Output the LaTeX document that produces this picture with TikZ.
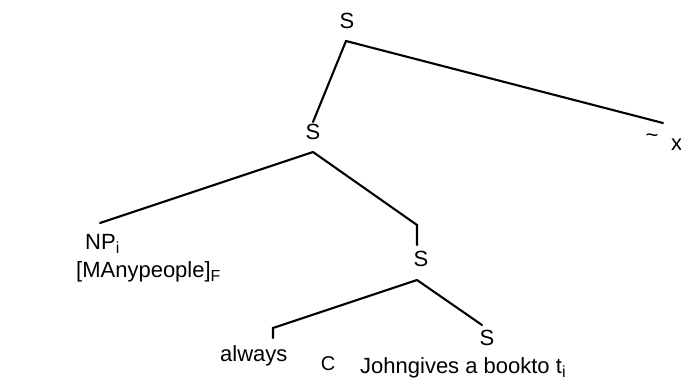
\documentclass[tikz,border=0pt]{standalone}
\usepackage{fontspec}
\setmainfont{Liberation Sans}
\newcommand{\lowidx}[1]{\raisebox{-4pt}{\fontsize{16}{16}\selectfont #1}}

\begin{document}
\begin{tikzpicture}[x=1pt,y=-1pt,
    lbl/.style={inner sep=0pt,anchor=base,font=\fontsize{22}{26}\selectfont},
    lblw/.style={lbl,anchor=base west},
    branch/.style={line width=2.1pt,line cap=round}]
    \useasboundingbox (0,0) rectangle (681,385);

    % top of the tree
    \node[lbl] (sTop) at (347,29) {S};
    \coordinate (sTopFoot) at (346,41);
    \coordinate (sMidHead) at (313,122);
    \coordinate (tildeHead) at (663,123);
    \node[lbl] (tilde) at (652,143) {\textasciitilde};
    \node[lblw] (xVar) at (671,151) {x};

    % middle S
    \node[lbl] (sMid) at (313,140) {S};
    \coordinate (sMidFoot) at (313,152);
    \coordinate (npHead) at (100,223);
    \coordinate (sLowElbow) at (417,225);
    \coordinate (sLowHead) at (417,245);
    \node[lblw] (np) at (85,250) {NP\lowidx{i}};
    \node[lblw] (focus) at (76,278) {[MAnypeople]\lowidx{F}};

    % lower S
    \node[lbl] (sLow) at (421,267) {S};
    \coordinate (sLowFoot) at (417,280);
    \coordinate (alwaysElbow) at (273,328);
    \coordinate (alwaysHead) at (273,338);
    \coordinate (sBotHead) at (482,325);
    \node[lbl] (sBot) at (487,345) {S};
    \node[lblw] (always) at (220,361) {always};
    \node[lbl,font=\fontsize{20}{24}\selectfont] (cVar) at (328,370) {C};
    \node[lblw] (clause) at (360,373) {Johngives a bookto t\lowidx{i}};

    \draw[branch] (sMidHead) -- (sTopFoot) -- (tildeHead);
    \draw[branch] (npHead) -- (sMidFoot) -- (sLowElbow) -- (sLowHead);
    \draw[branch] (alwaysHead) -- (alwaysElbow) -- (sLowFoot) -- (sBotHead);
\end{tikzpicture}
\end{document}
